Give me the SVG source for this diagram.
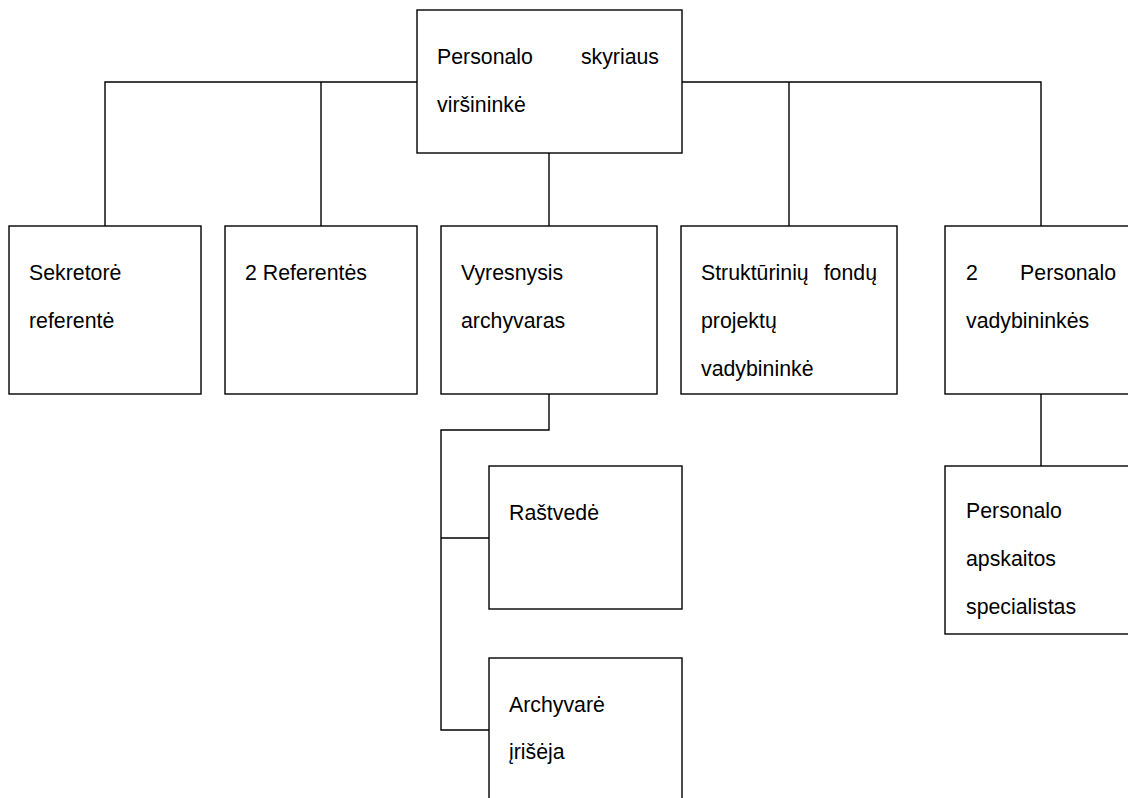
<svg xmlns="http://www.w3.org/2000/svg" width="1128" height="798" viewBox="0 0 1128 798">
<style>
.box{fill:#fff;stroke:#000;stroke-width:1.4}
.ln{fill:none;stroke:#000;stroke-width:1.4}
text{font-family:"Liberation Sans",Arial,sans-serif;font-size:21.3px;fill:#000}
.e{text-anchor:end}
</style>
<rect width="1128" height="798" fill="#fff"/>
<g id="connectors">
<polyline class="ln" points="105,226 105,82 1041,82 1041,226"/>
<line class="ln" x1="321" y1="82" x2="321" y2="226"/>
<line class="ln" x1="549" y1="153" x2="549" y2="226"/>
<line class="ln" x1="789" y1="82" x2="789" y2="226"/>
<polyline class="ln" points="549,394 549,430 441,430 441,730 489,730"/>
<line class="ln" x1="441" y1="538" x2="489" y2="538"/>
<line class="ln" x1="1041" y1="394" x2="1041" y2="466"/>
</g>
<g id="n-top">
<rect class="box" x="417" y="10" width="265" height="143"/>
<text x="437" y="64">Personalo</text><text class="e" x="659" y="64">skyriaus</text>
<text x="437" y="112">viršininkė</text>
</g>
<g id="n-sekretore">
<rect class="box" x="9" y="226" width="192" height="168"/>
<text x="29" y="280">Sekretorė</text><text x="29" y="328">referentė</text>
</g>
<g id="n-referentes">
<rect class="box" x="225" y="226" width="192" height="168"/>
<text x="245" y="280">2 Referentės</text>
</g>
<g id="n-archyvaras">
<rect class="box" x="441" y="226" width="216" height="168"/>
<text x="461" y="280">Vyresnysis</text><text x="461" y="328">archyvaras</text>
</g>
<g id="n-fondu">
<rect class="box" x="681" y="226" width="216" height="168"/>
<text x="701" y="280">Struktūrinių</text><text class="e" x="877" y="280">fondų</text>
<text x="701" y="328">projektų</text><text x="701" y="376">vadybininkė</text>
</g>
<g id="n-vadybininkes">
<rect class="box" x="945" y="226" width="200" height="168"/>
<text x="966" y="280">2</text><text class="e" x="1116" y="280">Personalo</text>
<text x="966" y="328">vadybininkės</text>
</g>
<g id="n-rastvede">
<rect class="box" x="489" y="466" width="193" height="143"/>
<text x="509" y="520">Raštvedė</text>
</g>
<g id="n-archyvare">
<rect class="box" x="489" y="658" width="193" height="160"/>
<text x="509" y="712">Archyvarė</text><text x="509" y="759">įrišėja</text>
</g>
<g id="n-apskaitos">
<rect class="box" x="945" y="466" width="200" height="168"/>
<text x="966" y="518">Personalo</text><text x="966" y="566">apskaitos</text><text x="966" y="614">specialistas</text>
</g>
</svg>
